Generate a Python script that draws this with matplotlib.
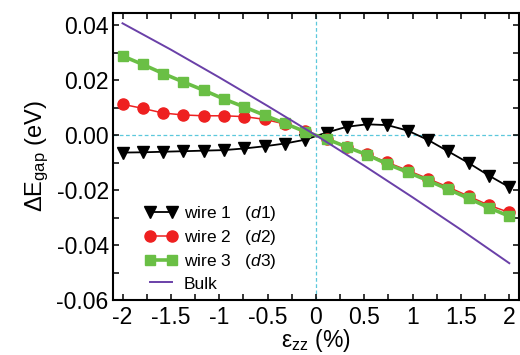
import matplotlib
matplotlib.use("Agg")
import matplotlib.pyplot as plt
from matplotlib.ticker import MultipleLocator, FormatStrFormatter

plt.rcParams['font.family'] = ['Liberation Sans', 'DejaVu Sans']
plt.rcParams['mathtext.fontset'] = 'custom'
plt.rcParams['mathtext.rm'] = 'Liberation Sans'
plt.rcParams['mathtext.it'] = 'Liberation Sans:italic'
plt.rcParams['axes.unicode_minus'] = False

# strain (%) at which the wires were computed
strain = [-2.0, -1.79, -1.58, -1.37, -1.16, -0.95, -0.74, -0.53, -0.32, -0.11,
          0.11, 0.32, 0.53, 0.74, 0.95, 1.16, 1.37, 1.58, 1.79, 2.0]

wire1 = [-0.0063, -0.0062, -0.0060, -0.0058, -0.0056, -0.0054, -0.0048, -0.0040, -0.0030, -0.0016,
         0.0010, 0.0031, 0.0040, 0.0037, 0.0017, -0.0017, -0.0059, -0.0101, -0.0147, -0.0189]
wire2 = [0.0113, 0.0098, 0.0081, 0.0074, 0.0071, 0.0071, 0.0068, 0.0058, 0.0041, 0.0014,
         -0.0012, -0.0041, -0.0069, -0.0099, -0.0128, -0.0158, -0.0189, -0.0222, -0.0255, -0.0281]
wire3 = [0.0289, 0.0258, 0.0225, 0.0194, 0.0164, 0.0132, 0.0103, 0.0073, 0.0043, 0.0013,
         -0.0013, -0.0043, -0.0071, -0.0105, -0.0135, -0.0165, -0.0197, -0.0230, -0.0264, -0.0295]

bulk_x = [-2.0, -1.5, -1.0, -0.5, 0.0, 0.5, 1.0, 1.5, 2.0]
bulk_y = [0.0408, 0.0312, 0.0211, 0.0107, 0.0, -0.0111, -0.0226, -0.0344, -0.0466]

fig = plt.figure(figsize=(5.2, 3.55), dpi=100)
ax = fig.add_axes([0.217, 0.155, 0.781, 0.808])

ax.axhline(0, color='#5cc8dc', lw=0.9, ls=(0, (3, 2)), zorder=1)
ax.axvline(0, color='#5cc8dc', lw=0.9, ls=(0, (3, 2)), zorder=1)

ax.plot(strain, wire1, color='black', lw=1.3, marker='v', ms=9,
        label=r'wire 1   ($\mathit{d1}$)', zorder=3)
ax.plot(strain, wire2, color='#ee2020', lw=1.1, marker='o', ms=8,
        label=r'wire 2   ($\mathit{d2}$)', zorder=4)
ax.plot(strain, wire3, color='#6abf45', lw=2.6, marker='s', ms=7,
        label=r'wire 3   ($\mathit{d3}$)', zorder=5)
ax.plot(bulk_x, bulk_y, color='#6a40a8', lw=1.4, label='Bulk', zorder=6)

ax.set_xlim(-2.1, 2.1)
ax.set_ylim(-0.06, 0.0445)
ax.xaxis.set_major_locator(MultipleLocator(0.5))
ax.xaxis.set_minor_locator(MultipleLocator(0.25))
ax.xaxis.set_major_formatter(FormatStrFormatter('%g'))
ax.yaxis.set_major_locator(MultipleLocator(0.02))
ax.yaxis.set_minor_locator(MultipleLocator(0.01))
ax.yaxis.set_major_formatter(FormatStrFormatter('%.2f'))

ax.tick_params(which='both', direction='in', top=True, right=True,
               length=4.5, width=1.1)
ax.tick_params(which='major', labelsize=16.5, pad=4)
ax.tick_params(axis='y', which='major', pad=3)
for s in ax.spines.values():
    s.set_linewidth(1.5)

ax.set_xlabel(r'ε$_{\mathrm{zz}}$ (%)', fontsize=16.5, labelpad=-1)
ax.set_ylabel(r'ΔE$_{\mathrm{gap}}$ (eV)', fontsize=17, labelpad=4)

ax.legend(loc='lower left', bbox_to_anchor=(0.04, -0.025), frameon=False,
          fontsize=12.5, numpoints=2, handlelength=1.9, handletextpad=0.35,
          labelspacing=0.3)

fig.savefig('out.png', dpi=100)
